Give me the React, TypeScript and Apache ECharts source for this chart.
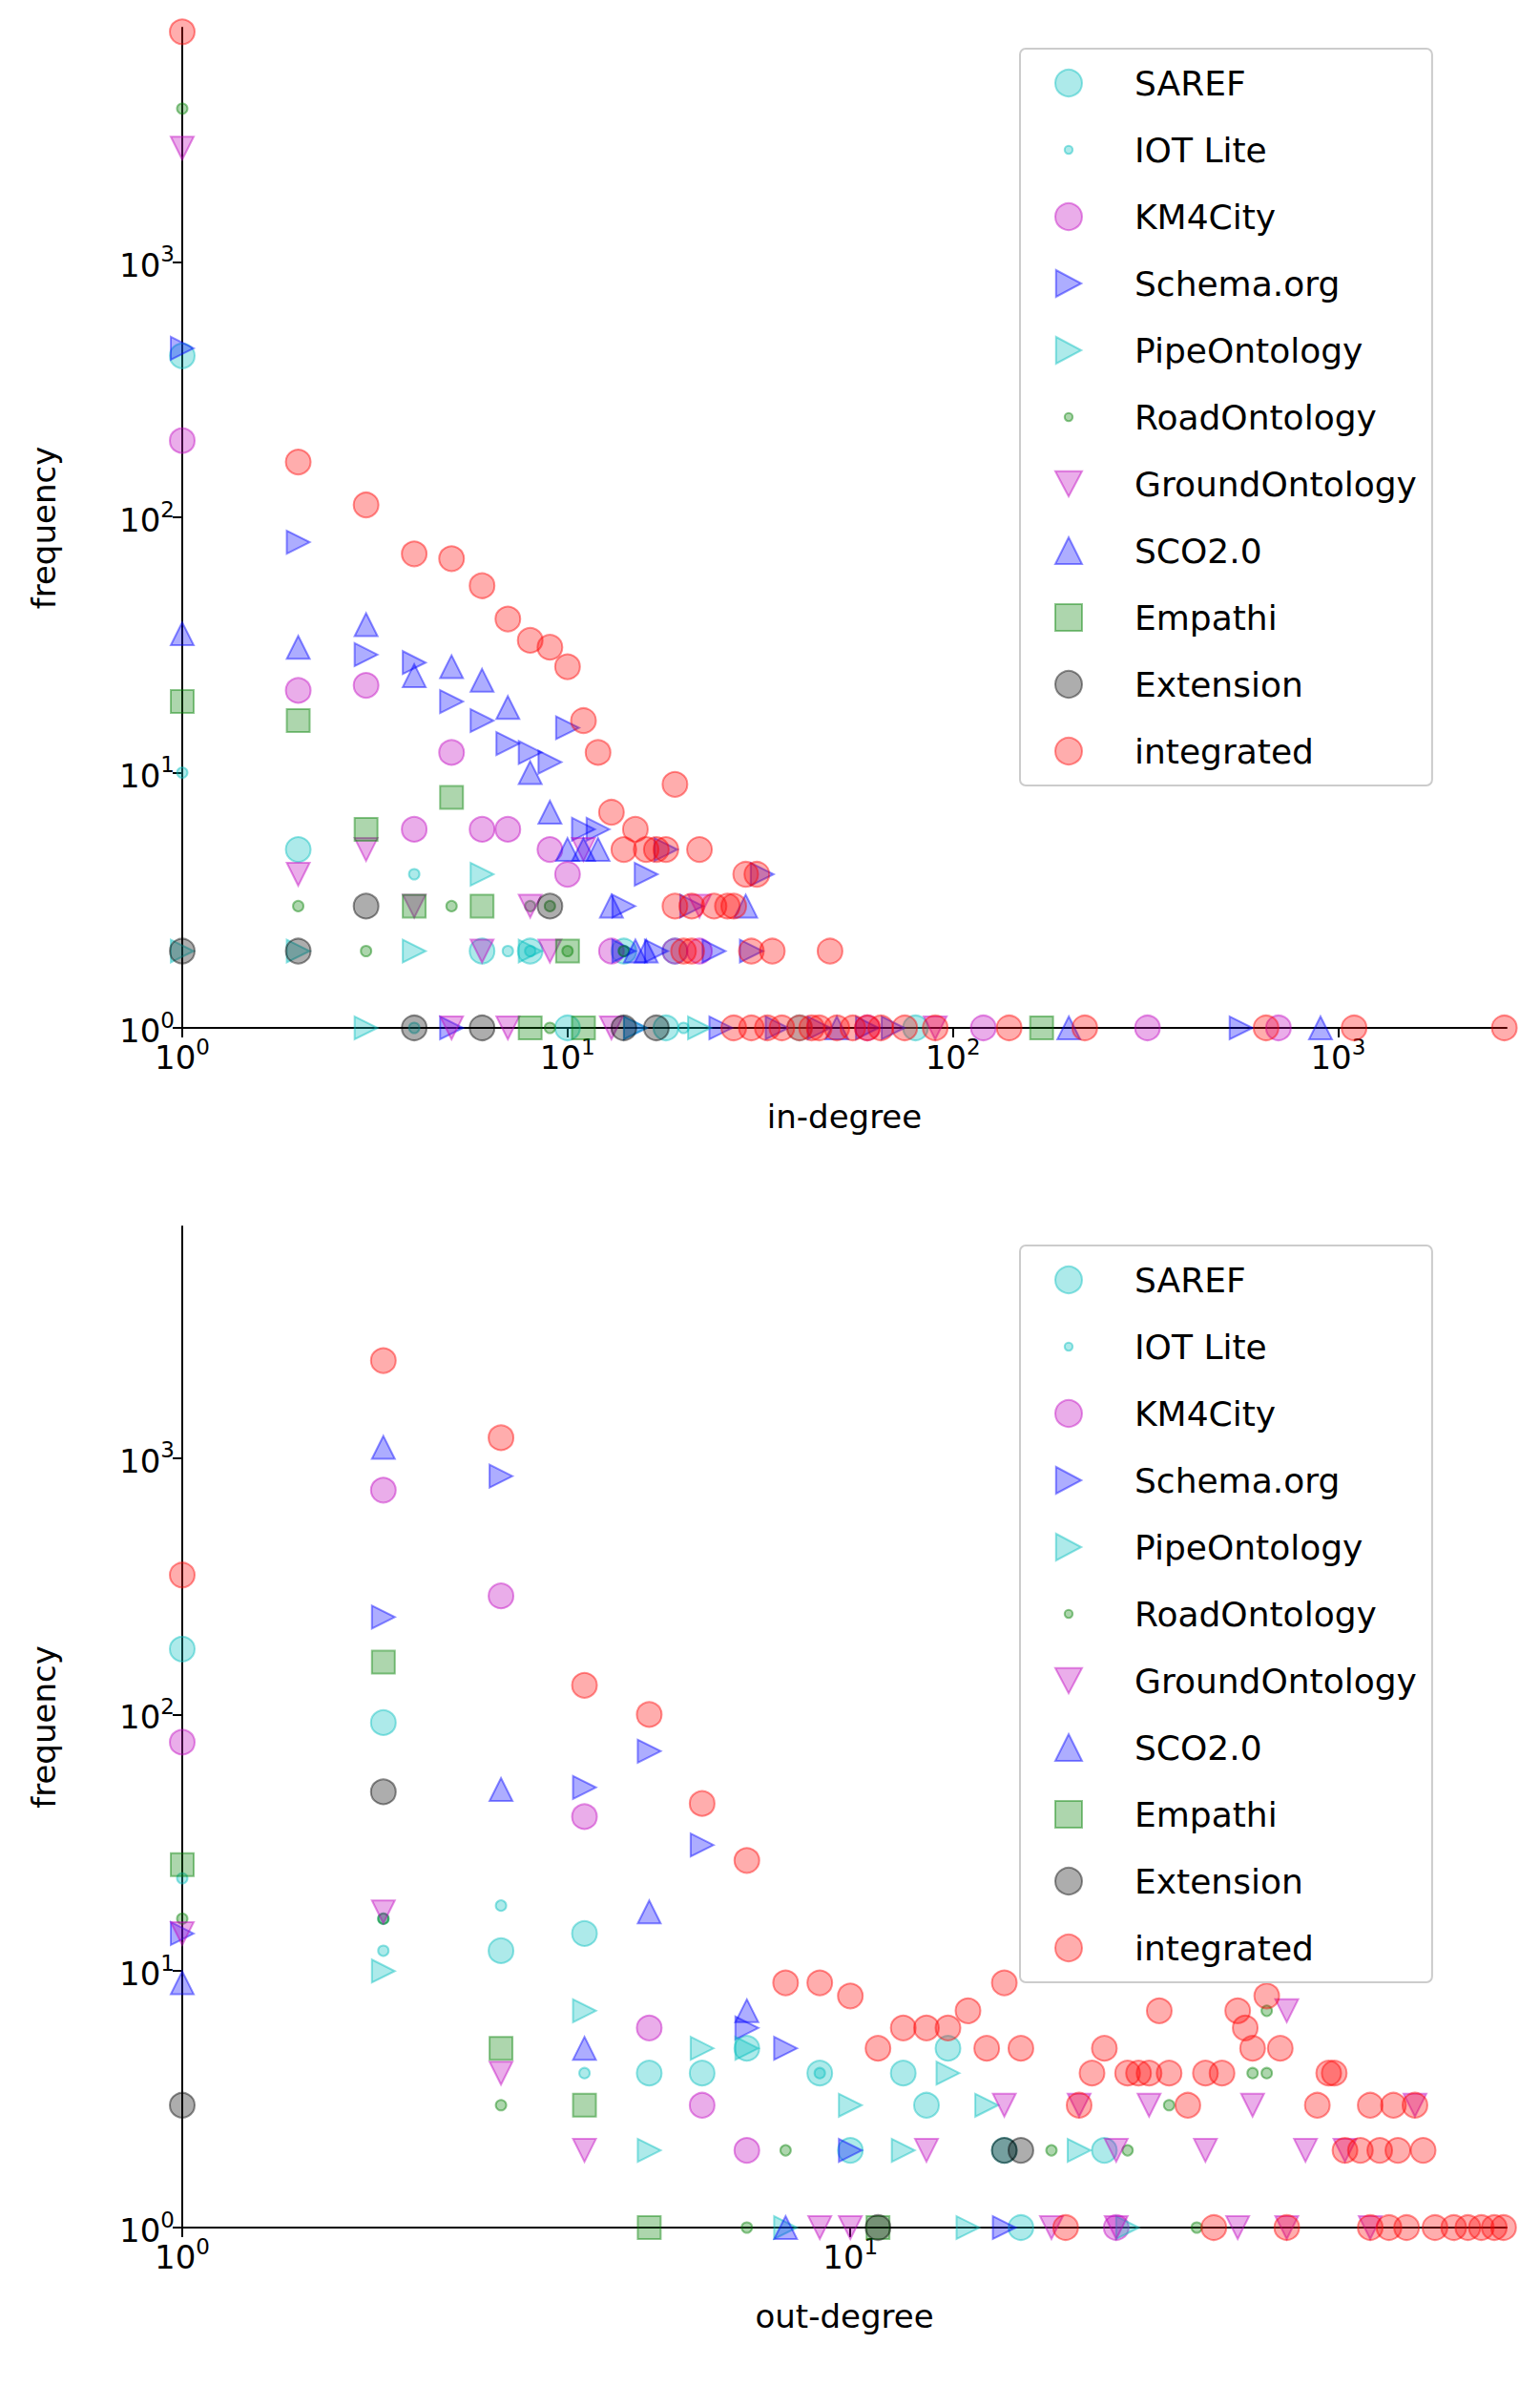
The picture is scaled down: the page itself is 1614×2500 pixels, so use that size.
import React, { useEffect, useRef } from 'react';
import * as echarts from 'echarts';

type Pt = [number, number];

// series definitions: name, colour, symbol, rotate, size
const seriesNames = ['SAREF', 'IOT Lite', 'KM4City', 'Schema.org', 'PipeOntology', 'RoadOntology', 'GroundOntology', 'SCO2.0', 'Empathi', 'Extension', 'integrated'];
const seriesColors = ['0,190,190', '0,190,190', '191,0,191', '0,0,255', '0,190,190', '0,128,0', '191,0,191', '0,0,255', '0,128,0', '0,0,0', '255,0,0'];
const seriesSymbols = ['circle', 'circle', 'circle', 'triangle', 'triangle', 'circle', 'triangle', 'triangle', 'rect', 'circle', 'circle'];
const seriesRotate = [0, 0, 0, -90, -90, 0, 180, 0, 0, 0, 0];
const seriesSizes = [26, 11, 26, 24, 24, 11, 24, 24, 24, 26, 26];

const SMALL = 'path://M0 0M20 20M10 7A3 3 0 1 1 10 13A3 3 0 1 1 10 7Z';
const RIGHT = 'path://M2 1L19 10L2 19Z';
const DOWN = 'path://M1 2L19 2L10 19Z';
const legendIcons = ['circle', SMALL, 'circle', RIGHT, RIGHT, SMALL, DOWN, 'triangle', 'rect', 'circle', 'circle'];

const inDegree: Pt[][] = [
  // SAREF
  [[1, 430], [2, 5], [6, 2], [8, 2], [14, 2], [19, 2], [10, 1], [40, 1], [80, 1], [18, 1]],
  // IOT Lite
  [[1, 10], [4, 4], [7, 2], [8, 2], [14, 2], [4, 1], [20, 1]],
  // KM4City
  [[1, 200], [2, 21], [3, 22], [4, 6], [5, 12], [6, 6], [7, 6], [9, 5], [10, 4], [13, 2], [19, 2], [22, 2], [120, 1], [320, 1], [700, 1], [60, 1]],
  // Schema.org
  [[1, 460], [2, 80], [3, 29], [4, 27], [5, 19], [6, 16], [7, 13], [8, 12], [9, 11], [10, 15], [11, 6], [12, 6], [16, 4], [18, 5], [14, 3], [21, 3], [14, 2], [17, 2], [24, 2], [30, 2], [32, 4], [5, 1], [15, 1], [25, 1], [35, 1], [45, 1], [60, 1], [70, 1], [560, 1]],
  // PipeOntology
  [[1, 2], [2, 2], [4, 2], [6, 4], [8, 2], [3, 1], [15, 1], [22, 1]],
  // RoadOntology
  [[1, 4000], [2, 3], [3, 2], [5, 3], [8, 3], [9, 3], [10, 2], [14, 2], [9, 1]],
  // GroundOntology
  [[1, 2800], [2, 4], [3, 5], [4, 3], [6, 2], [8, 3], [9, 2], [11, 5], [22, 3], [5, 1], [7, 1], [90, 1], [13, 1]],
  // SCO2.0
  [[1, 35], [2, 31], [3, 38], [4, 24], [5, 26], [6, 23], [7, 18], [8, 10], [9, 7], [10, 5], [11, 5], [12, 5], [13, 3], [15, 2], [16, 2], [29, 3], [50, 1], [200, 1], [900, 1]],
  // Empathi
  [[1, 19], [2, 16], [3, 6], [4, 3], [5, 8], [6, 3], [10, 2], [8, 1], [11, 1], [170, 1]],
  // Extension
  [[1, 2], [2, 2], [3, 3], [9, 3], [4, 1], [6, 1], [14, 1], [17, 1]],
  // integrated
  [[1, 8000], [2, 165], [3, 112], [4, 72], [5, 69], [6, 54], [7, 40], [8, 33], [9, 31], [10, 26], [11, 16], [12, 12], [13, 7], [14, 5], [15, 6], [16, 5], [17, 5], [18, 5], [19, 9], [22, 5],
    [19, 3], [21, 3], [24, 3], [26, 3], [27, 3], [29, 4], [31, 4], [20, 2], [21, 2], [30, 2], [34, 2], [48, 2],
    [27, 1], [30, 1], [33, 1], [36, 1], [40, 1], [43, 1], [45, 1], [50, 1], [55, 1], [60, 1], [65, 1], [75, 1], [90, 1], [140, 1], [220, 1], [650, 1], [1100, 1], [2700, 1]],
];

const outDegree: Pt[][] = [
  // SAREF
  [[1, 180], [2, 93], [3, 12], [4, 14], [5, 4], [6, 4], [7, 5], [9, 4], [12, 4], [13, 3], [14, 5], [17, 2], [24, 2], [10, 2], [18, 1]],
  // IOT Lite
  [[1, 23], [2, 12], [2, 16], [3, 18], [4, 4], [9, 4]],
  // KM4City
  [[1, 78], [2, 750], [3, 290], [4, 40], [5, 6], [6, 3], [7, 2], [25, 1]],
  // Schema.org
  [[1, 14], [2, 240], [3, 850], [4, 52], [5, 72], [6, 31], [7, 6], [8, 5], [10, 2], [17, 1]],
  // PipeOntology
  [[2, 10], [4, 7], [5, 2], [6, 5], [7, 5], [10, 3], [12, 2], [14, 4], [16, 3], [22, 2], [8, 1], [15, 1], [26, 1]],
  // RoadOntology
  [[1, 16], [2, 16], [3, 3], [8, 2], [20, 2], [26, 2], [30, 3], [40, 4], [42, 7], [42, 4], [7, 1], [33, 1]],
  // GroundOntology
  [[1, 14], [2, 17], [3, 4], [4, 2], [13, 2], [17, 3], [22, 3], [25, 2], [28, 3], [34, 2], [40, 3], [45, 7], [48, 2], [55, 2], [70, 3], [9, 1], [10, 1], [20, 1], [25, 1], [38, 1], [45, 1], [60, 1]],
  // SCO2.0
  [[1, 9], [2, 1100], [3, 51], [4, 5], [5, 17], [7, 7], [8, 1]],
  // Empathi
  [[1, 26], [2, 160], [3, 5], [4, 3], [5, 1], [11, 1]],
  // Extension
  [[1, 3], [2, 50], [17, 2], [11, 1], [18, 2]],
  // integrated
  [[1, 350], [2, 2400], [3, 1200], [4, 130], [5, 100], [6, 45], [7, 27], [8, 9], [9, 9], [10, 8], [11, 5], [12, 6], [13, 6], [14, 6], [15, 7], [16, 5], [17, 9], [18, 5],
    [22, 3], [23, 4], [24, 5], [26, 4], [27, 4], [28, 4], [29, 7], [30, 4], [32, 3], [34, 4], [36, 4], [38, 7], [39, 6], [40, 5], [42, 8], [43, 12], [44, 5],
    [50, 3], [52, 4], [53, 4], [55, 2], [58, 2], [60, 3], [62, 2], [65, 3], [66, 2], [70, 3], [72, 2],
    [21, 1], [35, 1], [45, 1], [60, 1], [64, 1], [68, 1], [75, 1], [80, 1], [84, 1], [88, 1], [92, 1], [95, 1]],
];

const FONT = 'DejaVu Sans';

const supLabel = (v: number) => '{base|10}{sup|' + Math.round(Math.log10(v)) + '}';

const axisCommon = {
  type: 'log' as const,
  logBase: 10,
  interval: 1,
  axisLine: { show: true, lineStyle: { color: '#000', width: 2 } },
  axisTick: { show: true, inside: false, length: 10, lineStyle: { color: '#000', width: 2 } },
  splitLine: { show: false },
  nameLocation: 'middle' as const,
  nameTextStyle: { fontFamily: FONT, fontSize: 34, color: '#000' },
  axisLabel: {
    formatter: supLabel,
    showMaxLabel: false,
    fontFamily: FONT,
    fontSize: 34,
    color: '#000',
    rich: {
      base: { fontSize: 34, fontFamily: FONT, color: '#000', verticalAlign: 'bottom', lineHeight: 40 },
      sup: { fontSize: 23, fontFamily: FONT, color: '#000', verticalAlign: 'top', lineHeight: 40, padding: [0, 0, 18, 0] },
    },
  },
};

const App: React.FC = () => {
  const chartRef = useRef<HTMLDivElement>(null);

  useEffect(() => {
    document.body.style.margin = '0';
    if (!chartRef.current) return;
    const chart = echarts.init(chartRef.current, undefined, { renderer: 'svg' });

    const makeSeries = (data: Pt[][], idx: number) =>
      seriesNames.map((name, i) => ({
        name,
        type: 'scatter' as const,
        xAxisIndex: idx,
        yAxisIndex: idx,
        symbol: seriesSymbols[i],
        symbolRotate: seriesRotate[i],
        symbolSize: seriesSizes[i],
        itemStyle: {
          color: `rgba(${seriesColors[i]},0.4)`,
          borderColor: `rgba(${seriesColors[i]},0.55)`,
          borderWidth: 2,
        },
        data: data[i],
      }));

    const legendCommon = {
      orient: 'vertical' as const,
      left: 1069,
      width: 490,
      itemWidth: 28,
      itemHeight: 28,
      itemGap: 34,
      padding: [18, 16, 18, 36],
      borderColor: '#ccc',
      borderWidth: 2,
      borderRadius: 6,
      backgroundColor: '#fff',
      textStyle: { fontFamily: FONT, fontSize: 36, color: '#000', padding: [0, 0, 0, 50] },
      data: seriesNames.map((name, i) => ({ name, icon: legendIcons[i] })),
    };

    chart.setOption({
      animation: false,
      grid: [
        { left: 191, width: 1388, top: 29, height: 1048 },
        { left: 191, width: 1388, top: 1285, height: 1049 },
      ],
      xAxis: [
        { ...axisCommon, gridIndex: 0, min: 1, max: 2737, name: 'in-degree', nameGap: 76 },
        { ...axisCommon, gridIndex: 1, min: 1, max: 96, name: 'out-degree', nameGap: 76 },
      ],
      yAxis: [
        { ...axisCommon, gridIndex: 0, min: 1, max: 8300, name: 'frequency', nameGap: 128 },
        { ...axisCommon, gridIndex: 1, min: 1, max: 8000, name: 'frequency', nameGap: 128 },
      ],
      legend: [
        { ...legendCommon, top: 51 },
        { ...legendCommon, top: 1305 },
      ],
      series: [...makeSeries(inDegree, 0), ...makeSeries(outDegree, 1)],
    });

    return () => {
      chart.dispose();
    };
  }, []);

  return <div ref={chartRef} style={{ width: 1614, height: 2500, background: '#fff' }} />;
};

export default App;
